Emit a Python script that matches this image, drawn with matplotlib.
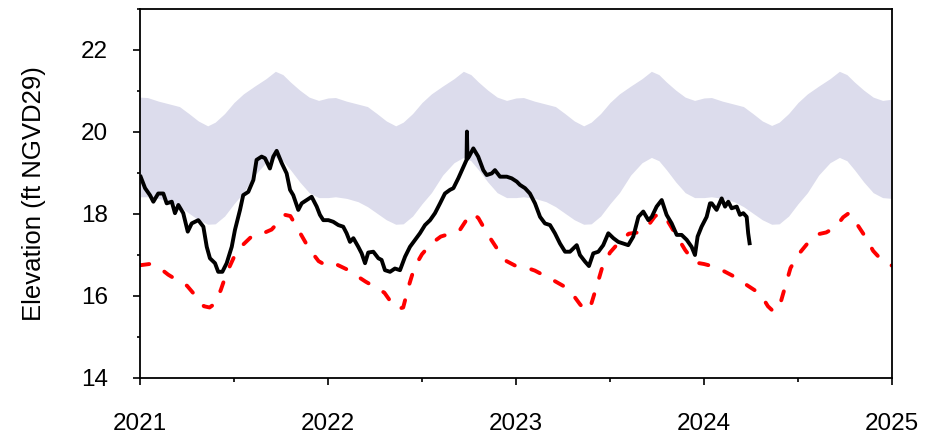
import numpy as np
import matplotlib
matplotlib.use("Agg")
import matplotlib.pyplot as plt
from matplotlib.ticker import FixedLocator

plt.rcParams['font.family'] = ['Liberation Sans', 'DejaVu Sans']

years = [2021, 2022, 2023, 2024]
end_year = 2025

# ---- Regulation band (fraction of year -> elevation) ----
band_frac = [0.00, 0.04, 0.10, 0.16, 0.21, 0.26, 0.31, 0.36, 0.40, 0.45, 0.50,
             0.55, 0.61, 0.67, 0.72, 0.76, 0.80, 0.85, 0.90, 0.95]
upper_2021 = [20.85, 20.84, 20.75, 20.68, 20.62, 20.45, 20.27, 20.15, 20.24, 20.45, 20.72,
              20.93, 21.12, 21.30, 21.48, 21.40, 21.22, 21.02, 20.85, 20.77]
upper_2022 = [20.83, 20.84, 20.75, 20.68, 20.62, 20.45, 20.27, 20.15, 20.24, 20.45, 20.72,
              20.93, 21.12, 21.30, 21.48, 21.40, 21.22, 21.02, 20.85, 20.77]
upper_2023 = [20.83, 20.84, 20.75, 20.68, 20.62, 20.45, 20.27, 20.15, 20.24, 20.45, 20.72,
              20.93, 21.12, 21.30, 21.48, 21.40, 21.22, 21.02, 20.85, 20.77]
upper_2024 = [20.83, 20.84, 20.75, 20.68, 20.62, 20.45, 20.27, 20.16, 20.24, 20.45, 20.72,
              20.93, 21.12, 21.30, 21.48, 21.40, 21.22, 21.02, 20.85, 20.77]
lower_2021 = [18.42, 18.42, 18.38, 18.30, 18.18, 18.02, 17.86, 17.75, 17.76, 17.95, 18.25,
              18.52, 18.95, 19.25, 19.38, 19.30, 19.08, 18.78, 18.52, 18.40]
lower_2022 = [18.40, 18.42, 18.38, 18.30, 18.18, 18.02, 17.86, 17.75, 17.76, 17.95, 18.25,
              18.52, 18.95, 19.25, 19.38, 19.30, 19.08, 18.78, 18.52, 18.40]
lower_2023 = [18.40, 18.42, 18.38, 18.30, 18.18, 18.02, 17.86, 17.75, 17.76, 17.95, 18.25,
              18.52, 18.95, 19.25, 19.38, 19.30, 19.08, 18.78, 18.52, 18.40]
lower_2024 = [18.40, 18.42, 18.38, 18.30, 18.18, 18.02, 17.86, 17.75, 17.76, 17.95, 18.25,
              18.52, 18.95, 19.25, 19.38, 19.30, 19.08, 18.78, 18.52, 18.40]
upper_end = 20.80
lower_end = 18.38

# ---- Red dashed reference line ----
red_frac = [0.00, 0.05, 0.10, 0.15, 0.20, 0.25, 0.30, 0.34, 0.37, 0.40, 0.43, 0.46,
            0.50, 0.55, 0.60, 0.65, 0.70, 0.74, 0.77, 0.80, 0.85, 0.90, 0.95]
red_2021 = [16.75, 16.78, 16.70, 16.52, 16.38, 16.25, 15.98, 15.75, 15.72, 15.82, 16.15, 16.55,
            16.95, 17.26, 17.48, 17.52, 17.62, 17.82, 17.98, 17.95, 17.55, 17.15, 16.85]
red_2022 = [16.72, 16.76, 16.65, 16.50, 16.35, 16.22, 16.08, 15.82, 15.68, 15.72, 16.25, 16.70,
            17.02, 17.28, 17.45, 17.52, 17.60, 17.88, 18.02, 17.90, 17.50, 17.15, 16.85]
red_2023 = [16.73, 16.70, 16.62, 16.50, 16.38, 16.25, 16.05, 15.80, 15.64, 15.80, 16.25, 16.72,
            17.06, 17.32, 17.52, 17.55, 17.70, 17.95, 18.02, 17.88, 17.50, 17.12, 16.82]
red_2024 = [16.78, 16.72, 16.62, 16.50, 16.35, 16.20, 16.05, 15.75, 15.62, 15.72, 16.20, 16.68,
            17.00, 17.28, 17.50, 17.55, 17.68, 17.92, 18.02, 17.85, 17.50, 17.10, 16.85]
red_end = 16.74

# ---- Observed stage (black) ----
obs_t = [2021.000, 2021.027, 2021.053, 2021.071, 2021.097, 2021.124, 2021.142, 2021.169,
         2021.186, 2021.204, 2021.230, 2021.254, 2021.275, 2021.310, 2021.337, 2021.355,
         2021.372, 2021.399, 2021.416, 2021.438, 2021.461, 2021.488, 2021.505, 2021.532,
         2021.549, 2021.576, 2021.603, 2021.620, 2021.647, 2021.665, 2021.691, 2021.709,
         2021.727, 2021.754, 2021.780, 2021.798, 2021.815, 2021.842, 2021.860, 2021.887,
         2021.913, 2021.940, 2021.957, 2021.975, 2022.002, 2022.028, 2022.055, 2022.081,
         2022.099, 2022.117, 2022.135, 2022.161, 2022.179, 2022.197, 2022.214, 2022.241,
         2022.268, 2022.285, 2022.303, 2022.330, 2022.356, 2022.383, 2022.410, 2022.436,
         2022.463, 2022.489, 2022.516, 2022.543, 2022.569, 2022.596, 2022.622, 2022.649,
         2022.667, 2022.693, 2022.720, 2022.737, 2022.739, 2022.742, 2022.750, 2022.773,
         2022.799, 2022.826, 2022.844, 2022.871, 2022.888, 2022.915, 2022.951, 2022.977,
         2023.004, 2023.021, 2023.048, 2023.074, 2023.101, 2023.128, 2023.154, 2023.181,
         2023.207, 2023.234, 2023.261, 2023.287, 2023.323, 2023.340, 2023.367, 2023.388,
         2023.411, 2023.438, 2023.464, 2023.491, 2023.518, 2023.544, 2023.571, 2023.597,
         2023.624, 2023.651, 2023.677, 2023.704, 2023.722, 2023.748, 2023.775, 2023.801,
         2023.828, 2023.855, 2023.881, 2023.908, 2023.934, 2023.952, 2023.966, 2023.987,
         2024.014, 2024.032, 2024.041, 2024.067, 2024.094, 2024.112, 2024.129, 2024.147,
         2024.174, 2024.191, 2024.209, 2024.227, 2024.235, 2024.244]
obs_v = [18.95, 18.63, 18.46, 18.30, 18.50, 18.50, 18.26, 18.30,
         18.02, 18.22, 18.02, 17.57, 17.77, 17.85, 17.69, 17.20,
         16.92, 16.80, 16.59, 16.59, 16.80, 17.20, 17.61, 18.10,
         18.46, 18.54, 18.83, 19.32, 19.40, 19.36, 19.11, 19.40,
         19.54, 19.24, 18.99, 18.59, 18.46, 18.10, 18.26, 18.34,
         18.42, 18.18, 17.98, 17.85, 17.85, 17.81, 17.73, 17.69,
         17.53, 17.32, 17.41, 17.20, 17.04, 16.80, 17.06, 17.08,
         16.92, 16.88, 16.63, 16.59, 16.67, 16.63, 16.96, 17.20,
         17.37, 17.53, 17.73, 17.85, 18.02, 18.26, 18.50, 18.59,
         18.63, 18.87, 19.15, 19.32, 20.01, 19.35, 19.40, 19.60,
         19.40, 19.07, 18.95, 18.99, 19.07, 18.91, 18.91, 18.87,
         18.79, 18.71, 18.63, 18.50, 18.26, 17.93, 17.77, 17.73,
         17.53, 17.28, 17.08, 17.08, 17.24, 17.00, 16.84, 16.73,
         17.04, 17.08, 17.24, 17.53, 17.41, 17.32, 17.28, 17.24,
         17.45, 17.93, 18.06, 17.85, 17.93, 18.18, 18.34, 17.98,
         17.77, 17.49, 17.49, 17.37, 17.20, 17.00, 17.45, 17.69,
         17.93, 18.26, 18.26, 18.10, 18.38, 18.18, 18.30, 18.14,
         18.18, 17.98, 18.02, 17.93, 17.53, 17.24]

y_ticks = [14, 16, 18, 20, 22]
y_minor = [15, 17, 19, 21, 23]
x_ticks = [2021, 2022, 2023, 2024, 2025]
x_minor = [2021.5, 2022.5, 2023.5, 2024.5]
x_labels = ['2021', '2022', '2023', '2024', '2025']
ylabel = 'Elevation (ft NGVD29)'

# ---- assemble ----
uppers = [upper_2021, upper_2022, upper_2023, upper_2024]
lowers = [lower_2021, lower_2022, lower_2023, lower_2024]
reds = [red_2021, red_2022, red_2023, red_2024]
bx, bu, bl, rx, rv = [], [], [], [], []
for yr, u, l, r in zip(years, uppers, lowers, reds):
    bx += [yr + f for f in band_frac]
    bu += u
    bl += l
    rx += [yr + f for f in red_frac]
    rv += r
bx.append(end_year); bu.append(upper_end); bl.append(lower_end)
rx.append(end_year); rv.append(red_end)

fig = plt.figure(figsize=(9.44, 4.42), dpi=100)
ax = fig.add_axes([140/944, 1 - 378/442, 752/944, 369/442])

ax.fill_between(bx, bl, bu, color='#DCDCEC', linewidth=0, zorder=1)
ax.plot(rx, rv, color='#FF0000', linewidth=2.8, dashes=(2.4, 4.4),
        dash_capstyle='round', zorder=2)
ax.plot(obs_t, obs_v, color='black', linewidth=2.8, zorder=3,
        solid_joinstyle='round', solid_capstyle='butt')

ax.set_xlim(2021, 2025)
ax.set_ylim(14, 23)
ax.set_yticks(y_ticks)
ax.yaxis.set_minor_locator(FixedLocator(y_minor))
ax.set_xticks(x_ticks)
ax.set_xticklabels(x_labels)
ax.xaxis.set_minor_locator(FixedLocator(x_minor))

ax.tick_params(axis='y', which='major', direction='out', length=5, width=1.2,
               labelsize=17.5, pad=18)
ax.tick_params(axis='y', which='minor', direction='out', length=2, width=1.2)
ax.tick_params(axis='x', which='major', direction='out', length=5, width=1.2,
               labelsize=17.5, pad=20)
ax.tick_params(axis='x', which='minor', direction='out', length=3, width=1.2)

for s in ax.spines.values():
    s.set_linewidth(1.3)

ax.set_ylabel(ylabel, fontsize=18.5)
ax.yaxis.set_label_coords(-0.125, 0.5)

fig.savefig('out.png', dpi=100)
